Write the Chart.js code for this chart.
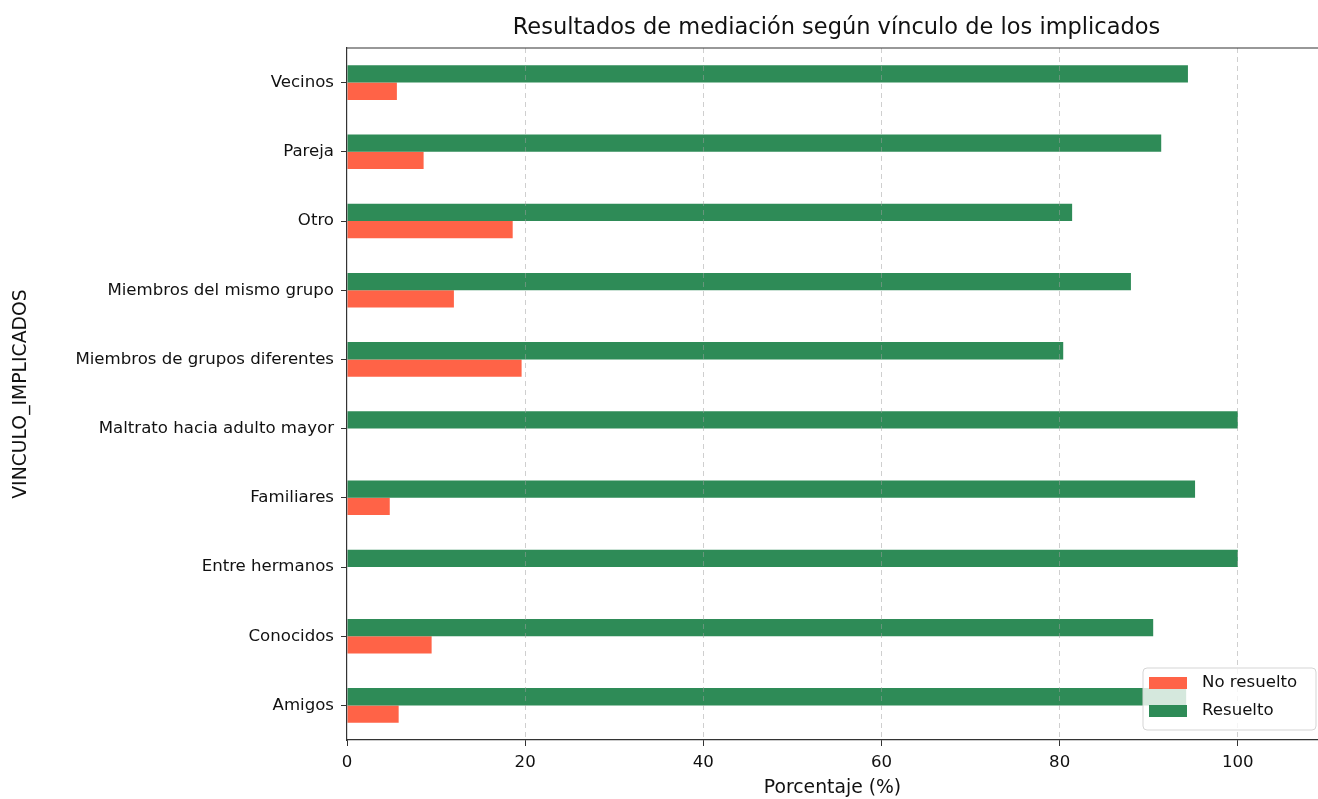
<!DOCTYPE html>
<html>
<head>
<meta charset="utf-8">
<script src="https://cdn.jsdelivr.net/npm/chart.js@4"></script>
<style>
  body { margin: 0; background: #fff; }
</style>
</head>
<body>
<canvas id="vinculoChart" width="1318" height="799"></canvas>
<script>
// categories listed bottom -> top (y axis is reversed, like pandas barh)
const vinculos = ['Amigos', 'Conocidos', 'Entre hermanos', 'Familiares', 'Maltrato hacia adulto mayor',
  'Miembros de grupos diferentes', 'Miembros del mismo grupo', 'Otro', 'Pareja', 'Vecinos'];
const noResuelto = [5.8, 9.5, 0, 4.8, 0, 19.6, 12.0, 18.6, 8.6, 5.6];
const resuelto = [94.2, 90.5, 100, 95.2, 100, 80.4, 88.0, 81.4, 91.4, 94.4];
const xTicks = [0, 20, 40, 60, 80, 100];

const FONT = 'DejaVu Sans';
const legendOrder = ['No resuelto', 'Resuelto'];

// title + top spine + legend box drawn like matplotlib
const extras = {
  id: 'extras',
  afterDraw(chart) {
    const {ctx, chartArea} = chart;
    ctx.save();
    // top spine
    ctx.strokeStyle = '#333';
    ctx.lineWidth = 1.2;
    ctx.beginPath();
    ctx.moveTo(chartArea.left, chartArea.top);
    ctx.lineTo(chartArea.right, chartArea.top);
    ctx.stroke();

    // title
    ctx.fillStyle = '#111';
    ctx.font = '22.5px "' + FONT + '"';
    ctx.textAlign = 'center';
    ctx.textBaseline = 'middle';
    ctx.fillText('Resultados de mediación según vínculo de los implicados', (chartArea.left + chartArea.right) / 2 + 4, 28);

    // legend (lower right, inside axes)
    const w = 173, h = 62;
    const x0 = chartArea.right - 2 - w, y0 = chartArea.bottom - 10 - h;
    ctx.beginPath();
    ctx.roundRect(x0, y0, w, h, 4);
    ctx.fillStyle = 'rgba(255,255,255,0.8)';
    ctx.fill();
    ctx.strokeStyle = '#d5d5d5';
    ctx.lineWidth = 1;
    ctx.stroke();
    ctx.font = '16.6px "' + FONT + '"';
    ctx.textAlign = 'left';
    legendOrder.forEach((name, i) => {
      const ds = chart.data.datasets.find(d => d.label === name);
      const ry = y0 + 9 + i * 28;
      ctx.fillStyle = ds.backgroundColor;
      ctx.fillRect(x0 + 6, ry, 38, 12);
      ctx.fillStyle = '#111';
      ctx.fillText(ds.label, x0 + 59, ry + 6);
    });
    ctx.restore();
  }
};

new Chart(document.getElementById('vinculoChart'), {
  type: 'bar',
  data: {
    labels: vinculos,
    datasets: [
      { label: 'Resuelto', data: resuelto, backgroundColor: '#2e8b57' },
      { label: 'No resuelto', data: noResuelto, backgroundColor: '#ff6347' }
    ]
  },
  options: {
    indexAxis: 'y',
    responsive: false,
    animation: false,
    layout: { padding: { top: 48, left: 0, right: 0, bottom: 0 } },
    datasets: { bar: { categoryPercentage: 0.5, barPercentage: 1.0 } },
    plugins: {
      legend: { display: false },
      title: { display: false },
      tooltip: { enabled: false }
    },
    scales: {
      x: {
        type: 'linear',
        min: 0,
        max: 109,
        afterBuildTicks: (scale) => { scale.ticks = xTicks.map(v => ({ value: v })); },
        afterFit: (scale) => { scale.height = 59; },
        ticks: { color: '#111', font: { family: FONT, size: 16.6 }, padding: 7 },
        grid: {
          z: 1,
          color: (c) => (c.tick && c.tick.value === 0) ? 'rgba(0,0,0,0)' : 'rgba(160,160,160,0.5)',
          lineWidth: 1,
          tickLength: 6,
          tickColor: '#333',
          tickBorderDash: []
        },
        border: { display: true, z: 2, color: '#333', width: 1.2, dash: [5, 4] },
        title: {
          display: true,
          text: 'Porcentaje (%)',
          color: '#111',
          font: { family: FONT, size: 18.8 },
          padding: { top: 0, bottom: 0 }
        }
      },
      y: {
        reverse: true,
        afterFit: (scale) => { scale.width = 347; },
        ticks: { color: '#111', font: { family: FONT, size: 16.6 }, padding: 7 },
        grid: {
          offset: false,
          drawOnChartArea: false,
          tickLength: 6,
          tickColor: '#333'
        },
        border: { display: true, z: 2, color: '#333', width: 1.2 },
        title: {
          display: true,
          text: 'VINCULO_IMPLICADOS',
          color: '#111',
          font: { family: FONT, size: 18.8 },
          padding: { top: 10, bottom: 0 }
        }
      }
    }
  },
  plugins: [extras]
});
</script>
</body>
</html>
